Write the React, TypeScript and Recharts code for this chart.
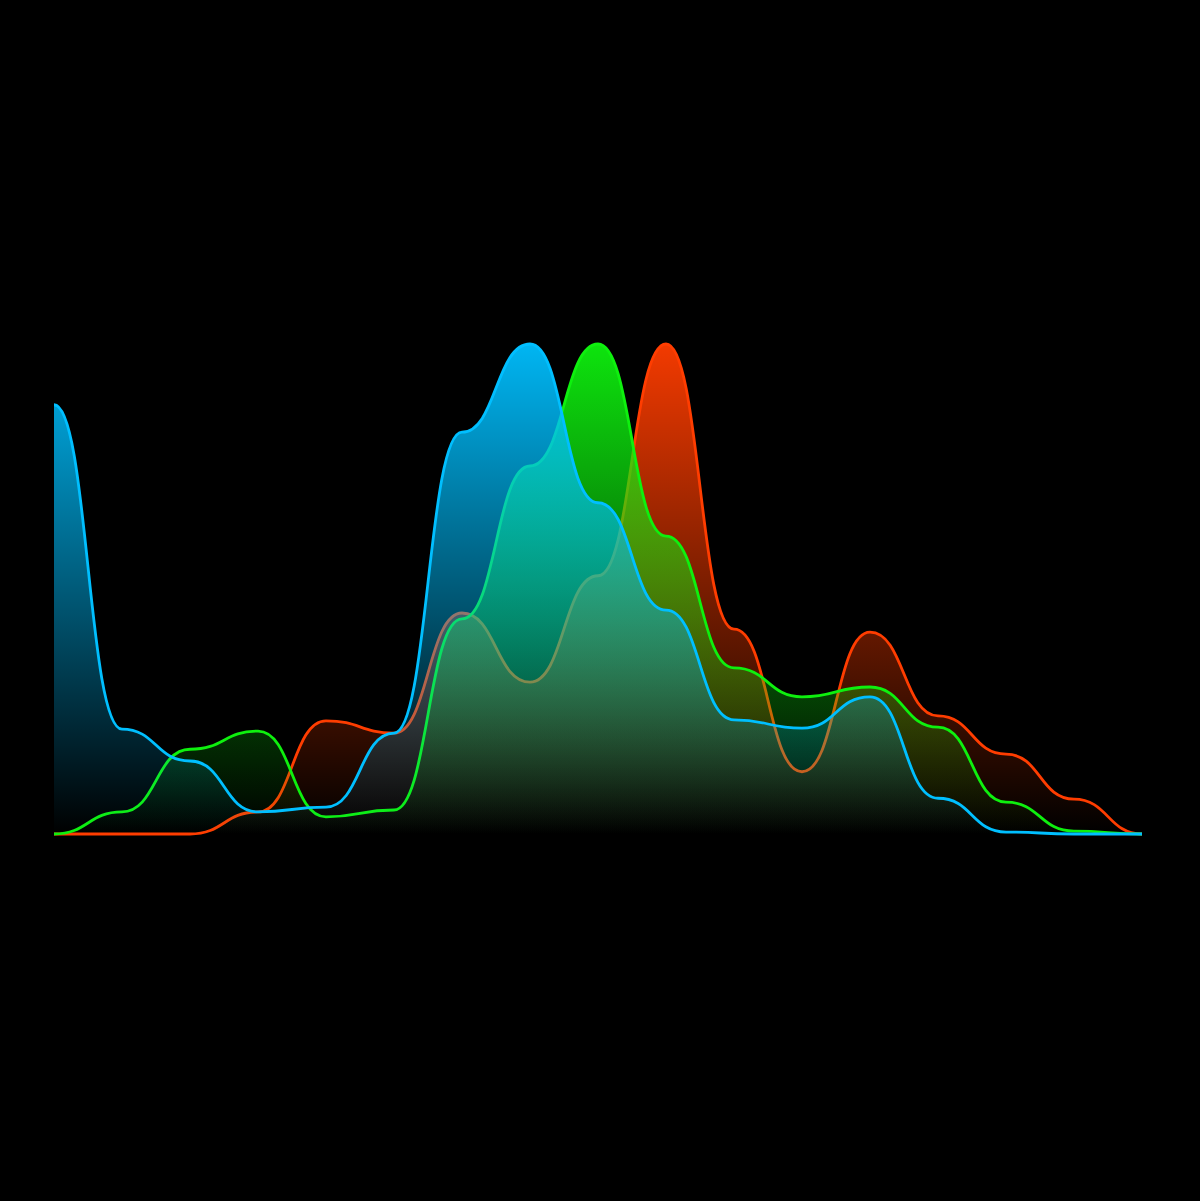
import { AreaChart, Area, XAxis, YAxis } from "recharts";

// 17 histogram bins, values as % of the tallest bin
const BINS = ["0", "16", "32", "48", "64", "80", "96", "112", "128", "144", "160", "176", "192", "208", "224", "240", "255"];
const RED = [0, 0, 0, 4.5, 23.1, 20.6, 45.1, 31.0, 52.7, 100, 41.8, 12.7, 41.2, 24.1, 16.3, 7.1, 0];
const GREEN = [0, 4.5, 17.3, 21.0, 3.5, 4.9, 43.9, 75.1, 100, 60.8, 33.9, 28.0, 30.0, 21.8, 6.5, 0.6, 0];
const BLUE = [87.6, 21.4, 14.9, 4.5, 5.5, 20.6, 82.0, 100, 67.6, 45.7, 23.3, 21.6, 28.0, 7.3, 0.4, 0, 0];

const data = BINS.map((bin, i) => ({ bin, r: RED[i], g: GREEN[i], b: BLUE[i] }));

const CHANNELS = [
  { key: "r", color: "#ff3d00" },
  { key: "g", color: "#0ef00e" },
  { key: "b", color: "#00bfff" },
];

export default function App() {
  return (
    <div style={{ position: "absolute", left: 0, top: 0, width: 1200, height: 1201, background: "#000" }}>
      <AreaChart
        width={1200}
        height={1201}
        data={data}
        margin={{ top: 344, right: 58, bottom: 367, left: 54 }}
      >
        <defs>
          {CHANNELS.map((c) => (
            <linearGradient key={c.key} id={`fill-${c.key}`} x1="0" y1="0" x2="0" y2="1">
              <stop offset="0%" stopColor={c.color} stopOpacity={0.95} />
              <stop offset="100%" stopColor={c.color} stopOpacity={0} />
            </linearGradient>
          ))}
        </defs>
        <XAxis dataKey="bin" hide />
        <YAxis domain={[0, 100]} hide />
        {CHANNELS.map((c) => (
          <Area
            key={c.key}
            type="bumpX"
            dataKey={c.key}
            stroke={c.color}
            strokeWidth={2.8}
            fill={`url(#fill-${c.key})`}
            fillOpacity={1}
            dot={false}
            activeDot={false}
            isAnimationActive={false}
          />
        ))}
      </AreaChart>
    </div>
  );
}
